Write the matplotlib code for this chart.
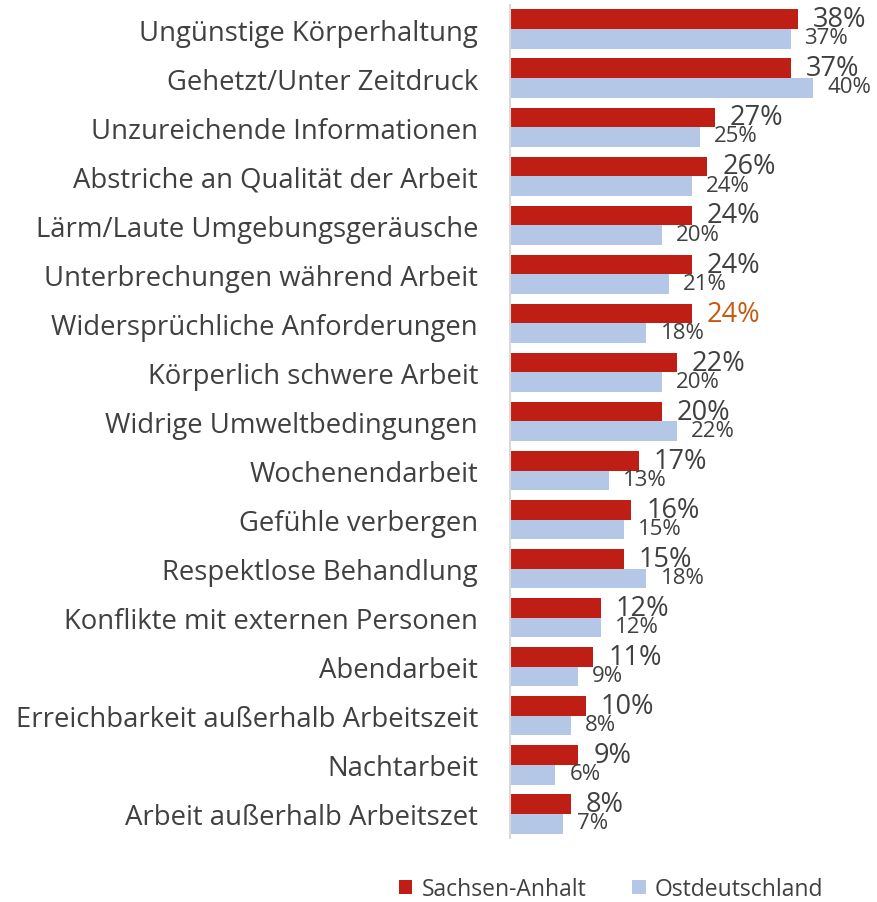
import numpy as np
import matplotlib.pyplot as plt

categories = ["Ungünstige Körperhaltung", "Gehetzt/Unter Zeitdruck", "Unzureichende Informationen",
              "Abstriche an Qualität der Arbeit", "Lärm/Laute Umgebungsgeräusche",
              "Unterbrechungen während Arbeit", "Widersprüchliche Anforderungen",
              "Körperlich schwere Arbeit", "Widrige Umweltbedingungen", "Wochenendarbeit",
              "Gefühle verbergen", "Respektlose Behandlung", "Konflikte mit externen Personen",
              "Abendarbeit", "Erreichbarkeit außerhalb Arbeitszeit", "Nachtarbeit",
              "Arbeit außerhalb Arbeitszet"]
sachsen = [38, 37, 27, 26, 24, 24, 24, 22, 20, 17, 16, 15, 12, 11, 10, 9, 8]
ost = [37, 40, 25, 24, 20, 21, 18, 20, 22, 13, 15, 18, 12, 9, 8, 6, 7]

red = "#BE1E14"
blue = "#B4C7E7"
grey = "#404040"

plt.rcParams['font.family'] = ['Open Sans', 'DejaVu Sans']

fig = plt.figure(figsize=(8.77, 9.03), dpi=100)
ax = fig.add_axes([510/877, 1 - 839.5/903, 1 - 510/877, (839.5 - 5.5)/903])

y = np.arange(len(categories))
h = 0.4
ax.barh(y - h/2, sachsen, height=h, color=red, label="Sachsen-Anhalt")
ax.barh(y + h/2, ost, height=h, color=blue, label="Ostdeutschland")

for i, (s, o) in enumerate(zip(sachsen, ost)):
    c = "#C55A11" if i == 6 else grey
    ax.annotate(f"{s}%", (s, i - h/2), xytext=(15, 0), textcoords="offset pixels",
                va="center", ha="left", fontsize=19.5, color=c)
    ax.annotate(f"{o}%", (o, i + h/2), xytext=(14, 1), textcoords="offset pixels",
                va="center", ha="left", fontsize=16, color=grey)

ax.set_xlim(0, 48.4)
ax.set_ylim(len(categories) - 0.5, -0.5)
ax.set_yticks(y)
ax.set_yticklabels(categories, fontsize=19.8, color=grey)
ax.tick_params(axis="y", length=0, pad=23)
ax.set_xticks([])
for side in ["top", "right", "bottom"]:
    ax.spines[side].set_visible(False)
ax.spines["left"].set_color("#D9D9D9")
ax.spines["left"].set_linewidth(1.5)

fig.legend(loc="center", bbox_to_anchor=(611/877, 1 - 890/903), ncol=2, frameon=False,
           fontsize=16.5, handlelength=0.6, handleheight=0.6, columnspacing=2.0,
           handletextpad=0.4, labelcolor=grey)

fig.savefig("out.png", dpi=100)
